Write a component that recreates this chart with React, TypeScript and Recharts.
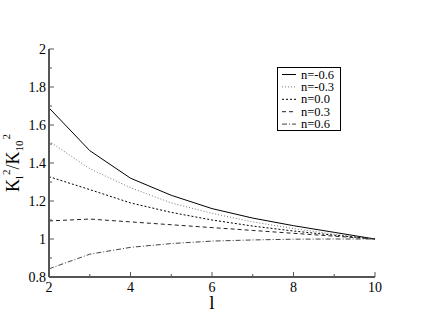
import React from 'react';
import { LineChart, Line, XAxis, YAxis } from 'recharts';

const lValues = [2, 3, 4, 5, 6, 7, 8, 9, 10];
const nm06 = [1.69, 1.465, 1.32, 1.23, 1.16, 1.11, 1.07, 1.035, 1.0];
const nm03 = [1.515, 1.37, 1.27, 1.19, 1.135, 1.09, 1.055, 1.025, 1.0];
const n00 = [1.328, 1.26, 1.19, 1.14, 1.1, 1.068, 1.042, 1.02, 1.0];
const n03 = [1.095, 1.105, 1.09, 1.075, 1.06, 1.045, 1.03, 1.015, 1.0];
const n06 = [0.843, 0.92, 0.956, 0.976, 0.989, 0.995, 0.999, 1.0, 1.0];
const seriesNames = ['n=-0.6', 'n=-0.3', 'n=0.0', 'n=0.3', 'n=0.6'];
const xTicks = [2, 3, 4, 5, 6, 7, 8, 9, 10];
const xLabeled = [2, 4, 6, 8, 10];
const yTicks = [0.8, 0.9, 1.0, 1.1, 1.2, 1.3, 1.4, 1.5, 1.6, 1.7, 1.8, 1.9, 2.0];
const yLabeled = ['0.8', '1', '1.2', '1.4', '1.6', '1.8', '2'];

const data = lValues.map((l, i) => ({
  l,
  s0: nm06[i],
  s1: nm03[i],
  s2: n00[i],
  s3: n03[i],
  s4: n06[i],
}));

const styles = [
  { key: 's0', stroke: '#000', dash: undefined as string | undefined },
  { key: 's1', stroke: '#777', dash: '1 2' },
  { key: 's2', stroke: '#000', dash: '2 2' },
  { key: 's3', stroke: '#222', dash: '4 3' },
  { key: 's4', stroke: '#444', dash: '5 2 1 2' },
];

const FONT = "'Liberation Serif', 'Times New Roman', serif";
const AX = '#555';

const fmtY = (v: number) => String(Math.round(v * 10) / 10);

const Tick = (props: any) => {
  const { x, y, payload, side } = props;
  const v = payload.value as number;
  if (side === 'bottom' || side === 'top') {
    const major = xLabeled.includes(v);
    const len = major ? 5 : 3;
    const dir = side === 'bottom' ? -1 : 1;
    return (
      <g>
        <line x1={x} x2={x} y1={y} y2={y + dir * len} stroke={AX} strokeWidth={1} />
        {side === 'bottom' && major && (
          <text x={x} y={y + 15} textAnchor="middle" fontFamily={FONT} fontSize={14} fill="#000">
            {v}
          </text>
        )}
      </g>
    );
  }
  const lbl = fmtY(v);
  const major = yLabeled.includes(lbl);
  const len = major ? 5 : 3;
  const dir = side === 'left' ? 1 : -1;
  return (
    <g>
      <line x1={x} x2={x + dir * len} y1={y} y2={y} stroke={AX} strokeWidth={1} />
      {side === 'left' && major && (
        <text x={x - 3} y={y + 5} textAnchor="end" fontFamily={FONT} fontSize={14} fill="#000">
          {lbl}
        </text>
      )}
    </g>
  );
};

const YLabel = (props: any) => {
  const vb = props.viewBox || {};
  const cx = 19;
  const cy = (vb.y ?? 0) + (vb.height ?? 0) / 2;
  return (
    <text
      x={cx}
      y={cy}
      transform={`rotate(-90, ${cx}, ${cy})`}
      textAnchor="middle"
      fontFamily={FONT}
      fontSize={18}
      fill="#000"
    >
      <tspan>K</tspan>
      <tspan fontSize={11} dy={4}>l</tspan>
      <tspan fontSize={11} dy={-13} dx={1}>2</tspan>
      <tspan dy={9}>/K</tspan>
      <tspan fontSize={11} dy={4}>10</tspan>
      <tspan fontSize={11} dy={-13} dx={1}>2</tspan>
    </text>
  );
};

const LegendBox = () => (
  <svg
    width={66}
    height={66}
    style={{ position: 'absolute', left: 276, top: 66 }}
  >
    <rect x={1.5} y={1.5} width={63} height={63} fill="#fff" stroke="#000" strokeWidth={1} />
    {seriesNames.map((name, i) => {
      const cy = 8.5 + i * 12.4;
      return (
        <g key={name}>
          <line
            x1={6}
            x2={20}
            y1={cy}
            y2={cy}
            stroke={styles[i].stroke}
            strokeDasharray={styles[i].dash}
            strokeWidth={1}
          />
          <text x={25} y={cy + 4} fontFamily={FONT} fontSize={12.5} fill="#000">
            {name}
          </text>
        </g>
      );
    })}
  </svg>
);

export default function App() {
  return (
    <div style={{ position: 'absolute', left: 0, top: 0, width: 423, height: 327, background: '#fff' }}>
      <LineChart width={423} height={327} data={data} margin={{ top: 49, right: 48, bottom: 0, left: 0 }}>
        <XAxis
          dataKey="l"
          type="number"
          domain={[2, 10]}
          ticks={xTicks}
          interval={0}
          height={50}
          tickSize={0}
          tickMargin={0}
          tickLine={false}
          axisLine={{ stroke: AX, strokeWidth: 2 }}
          tick={(p: any) => <Tick {...p} side="bottom" />}
          label={{ value: 'l', position: 'insideBottom', offset: 18, fontFamily: FONT, fontSize: 19, fill: '#000' }}
        />
        <XAxis
          xAxisId="top"
          orientation="top"
          dataKey="l"
          type="number"
          domain={[2, 10]}
          ticks={xTicks}
          interval={0}
          height={0}
          tickSize={0}
          tickMargin={0}
          tickLine={false}
          axisLine={{ stroke: AX, strokeWidth: 2 }}
          tick={(p: any) => <Tick {...p} side="top" />}
        />
        <YAxis
          type="number"
          domain={[0.8, 2]}
          ticks={yTicks}
          interval={0}
          width={49}
          tickSize={0}
          tickMargin={0}
          tickLine={false}
          axisLine={{ stroke: AX, strokeWidth: 2 }}
          tick={(p: any) => <Tick {...p} side="left" />}
          label={<YLabel />}
        />
        <YAxis
          yAxisId="right"
          orientation="right"
          type="number"
          domain={[0.8, 2]}
          ticks={yTicks}
          interval={0}
          width={0}
          tickSize={0}
          tickMargin={0}
          tickLine={false}
          axisLine={{ stroke: AX, strokeWidth: 2 }}
          tick={(p: any) => <Tick {...p} side="right" />}
        />
        {styles.map((s, i) => (
          <Line
            key={s.key}
            dataKey={s.key}
            name={seriesNames[i]}
            stroke={s.stroke}
            strokeDasharray={s.dash}
            strokeWidth={1}
            dot={false}
            type="linear"
            isAnimationActive={false}
          />
        ))}
      </LineChart>
      <LegendBox />
    </div>
  );
}
